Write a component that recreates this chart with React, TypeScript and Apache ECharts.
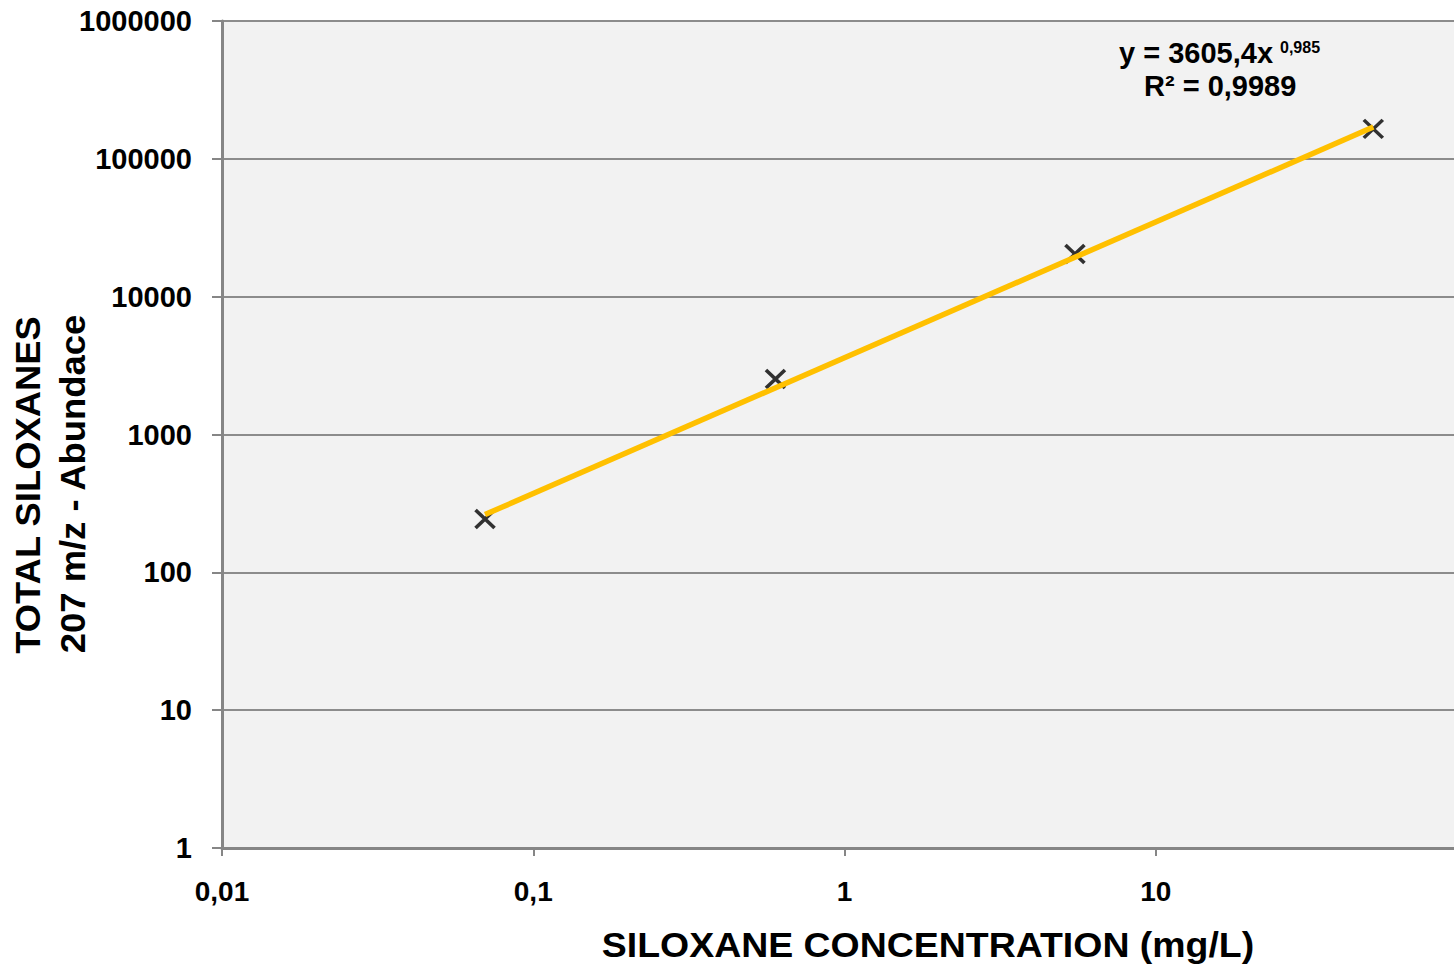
import React, { useEffect, useRef } from "react";
import * as echarts from "echarts";

// Calibration points: siloxane concentration (mg/L) vs. total 207 m/z abundance
const concentrations = [0.07, 0.6, 5.5, 50];
const abundances = [244, 2530, 20400, 165000];

// Power trend line  y = a * x^b
const trendA = 3605.4;
const trendB = 0.985;
const trendR2 = "0,9989";

// The 100 mg/L decade end lies past the right edge, so it carries no label
const xTickLabels = ["0,01", "0,1", "1", "10", ""];
const yTickLabels = ["1", "10", "100", "1000", "10000", "100000", "1000000"];

const FONT = "'Liberation Sans', Arial, sans-serif";

export default function App() {
  const ref = useRef<HTMLDivElement>(null);

  useEffect(() => {
    if (!ref.current) return;
    const chart = echarts.init(ref.current, null, { renderer: "svg" });

    const xStart = concentrations[0];
    const xEnd = concentrations[concentrations.length - 1];
    const trend = [
      [xStart, trendA * Math.pow(xStart, trendB)],
      [xEnd, trendA * Math.pow(xEnd, trendB)],
    ];

    const xLabel = (v: number) => {
      const i = Math.round(Math.log10(v)) + 2;
      return xTickLabels[i] ?? "";
    };
    const yLabel = (v: number) => {
      const i = Math.round(Math.log10(v));
      return yTickLabels[i] ?? "";
    };

    chart.setOption({
      animation: false,
      backgroundColor: "#ffffff",
      grid: {
        left: 222,
        top: 21,
        right: 0,
        bottom: 120,
        outerBoundsMode: "none",
        containLabel: false,
        show: true,
        backgroundColor: "#F2F2F2",
        borderWidth: 0,
      },
      xAxis: {
        type: "log",
        logBase: 10,
        min: 0.01,
        max: 100,
        axisLine: { show: true, lineStyle: { color: "#868686", width: 3 } },
        axisTick: { show: true, length: 8, lineStyle: { color: "#868686", width: 2 } },
        minorTick: { show: false },
        splitLine: { show: false },
        axisLabel: {
          formatter: xLabel,
          margin: 29,
          color: "#000",
          fontSize: 28,
          fontWeight: "bold",
          fontFamily: FONT,
        },
      },
      yAxis: {
        type: "log",
        logBase: 10,
        min: 1,
        max: 1000000,
        axisLine: { show: true, lineStyle: { color: "#868686", width: 3 } },
        axisTick: { show: true, length: 10, lineStyle: { color: "#868686", width: 2 } },
        splitLine: { show: true, lineStyle: { color: "#8C8C8C", width: 2 } },
        axisLabel: {
          formatter: yLabel,
          margin: 30,
          color: "#000",
          fontSize: 29,
          fontWeight: "bold",
          fontFamily: FONT,
        },
      },
      series: [
        {
          type: "scatter",
          data: concentrations.map((c, i) => [c, abundances[i]]),
          symbol: "path://M0,0L20,20M20,0L0,20",
          symbolSize: [19, 18],
          itemStyle: { color: "rgba(0,0,0,0)", borderColor: "#000", borderWidth: 3.5 },
          z: 2,
        },
        {
          type: "line",
          data: trend,
          showSymbol: false,
          symbol: "none",
          lineStyle: { color: "#FFC000", width: 5.5 },
          z: 3,
        },
      ],
      graphic: [
        {
          type: "text",
          x: 1119,
          y: 53,
          style: {
            text: "y = 3605,4x",
            fill: "#000",
            font: `bold 29px ${FONT}`,
            verticalAlign: "middle",
            align: "left",
          },
        },
        {
          type: "text",
          x: 1280,
          y: 47,
          style: {
            text: "0,985",
            fill: "#000",
            font: `bold 16px ${FONT}`,
            verticalAlign: "middle",
            align: "left",
          },
        },
        {
          type: "text",
          x: 1144,
          y: 86,
          style: {
            text: `R² = ${trendR2}`,
            fill: "#000",
            font: `bold 29px ${FONT}`,
            verticalAlign: "middle",
            align: "left",
          },
        },
        {
          type: "text",
          x: 928,
          y: 945,
          scaleX: 1.07,
          style: {
            text: "SILOXANE CONCENTRATION (mg/L)",
            fill: "#000",
            font: `bold 35px ${FONT}`,
            verticalAlign: "middle",
            align: "center",
          },
        },
        {
          type: "text",
          x: 28,
          y: 485,
          rotation: Math.PI / 2,
          scaleX: 1.04,
          style: {
            text: "TOTAL SILOXANES",
            fill: "#000",
            font: `bold 35px ${FONT}`,
            verticalAlign: "middle",
            align: "center",
          },
        },
        {
          type: "text",
          x: 73,
          y: 484,
          rotation: Math.PI / 2,
          scaleX: 1.04,
          style: {
            text: "207 m/z - Abundace",
            fill: "#000",
            font: `bold 35px ${FONT}`,
            verticalAlign: "middle",
            align: "center",
          },
        },
      ],
    });

    return () => chart.dispose();
  }, []);

  // The chart is a little wider than the page so the last decade runs off its right edge
  return (
    <div style={{ position: "absolute", left: 0, top: 0, width: 1454, height: 968, overflow: "hidden" }}>
      <div ref={ref} style={{ width: 1467, height: 968 }} />
    </div>
  );
}
